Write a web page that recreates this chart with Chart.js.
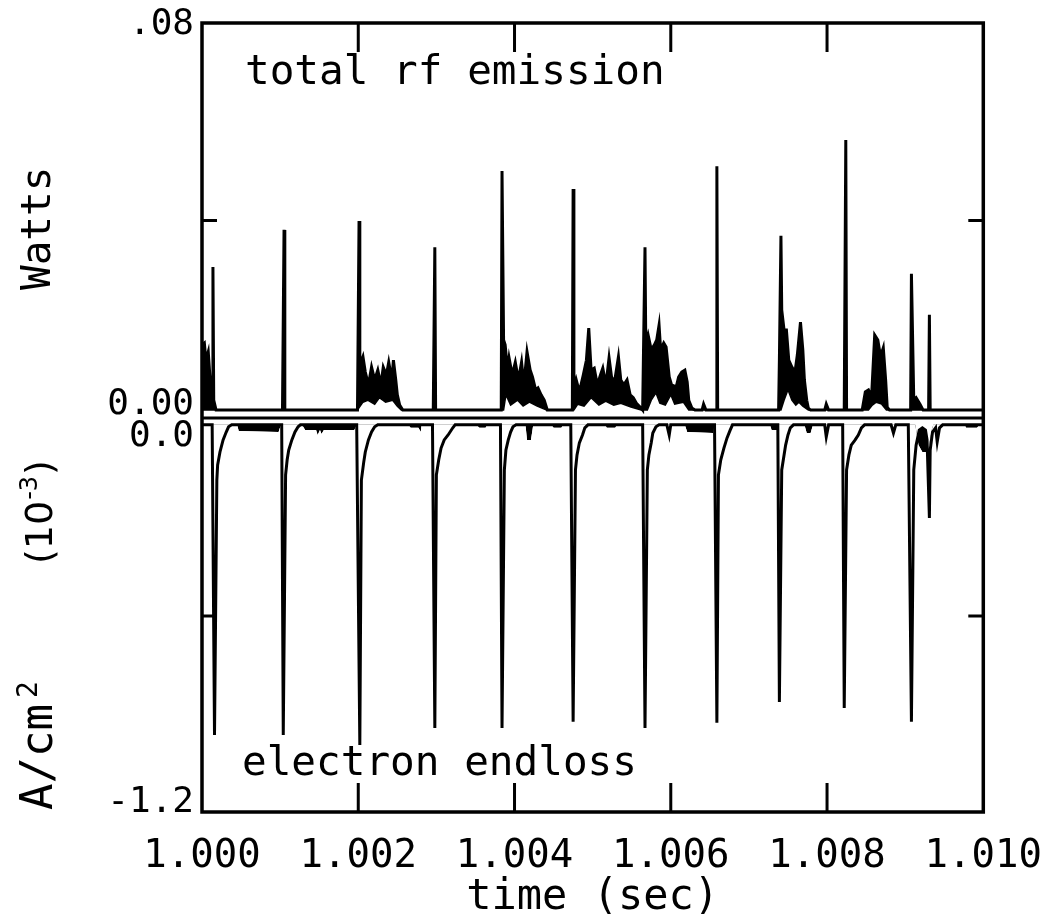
<!DOCTYPE html>
<html>
<head>
<meta charset="utf-8">
<script src="https://cdn.jsdelivr.net/npm/chart.js@4"></script>
<style>
  html, body { margin: 0; padding: 0; background: #fff; }
  #box { width: 1055px; height: 915px; }
</style>
</head>
<body>
<div id="box"><canvas id="rf"></canvas></div>
<script>
// time axis (sec)
const timeTicks = [1.000, 1.002, 1.004, 1.006, 1.008, 1.010];

// left axis labels, two panels sharing one frame
const wattTicks = [0.08, 0.04, 0.00];
const wattLabels = ['.08', '', '0.00'];
const endlossTicks = [0.0, -0.6, -1.2];
const endlossLabels = ['0.0', '', '-1.2'];

// total rf emission, upper edge of trace [time, Watts]
const rfUpper = [
  [1.00000, 0.0148], [1.00003, 0.0152], [1.00005, 0.0117], [1.00008, 0.0134], [1.00010, 0.0087],
  [1.00013, 0.0041], [1.00014, 0.0306], [1.00015, 0.0036], [1.00018, 0.0016],
  [1.00103, 0.0016], [1.00105, 0.0381], [1.00106, 0.0016],
  [1.00199, 0.0016], [1.00201, 0.0399], [1.00202, 0.0107], [1.00206, 0.0124], [1.00209, 0.0093],
  [1.00213, 0.0067], [1.00217, 0.0103], [1.00221, 0.0077], [1.00225, 0.0097], [1.00229, 0.0067],
  [1.00232, 0.0103], [1.00236, 0.0087], [1.00239, 0.0113], [1.00243, 0.0077], [1.00245, 0.0117],
  [1.00248, 0.0077], [1.00250, 0.0047], [1.00253, 0.0026], [1.00257, 0.0016],
  [1.00296, 0.0016], [1.00298, 0.0346], [1.00299, 0.0016],
  [1.00383, 0.0016], [1.00384, 0.0500], [1.00386, 0.0158], [1.00388, 0.0148], [1.00391, 0.0097],
  [1.00393, 0.0122], [1.00397, 0.0087], [1.00401, 0.0113], [1.00405, 0.0077], [1.00409, 0.0113],
  [1.00412, 0.0067], [1.00416, 0.0134], [1.00420, 0.0097], [1.00423, 0.0083], [1.00427, 0.0057],
  [1.00430, 0.0061], [1.00434, 0.0047], [1.00438, 0.0036], [1.00442, 0.0016],
  [1.00474, 0.0016], [1.00475, 0.0464], [1.00476, 0.0057], [1.00479, 0.0077], [1.00483, 0.0053],
  [1.00488, 0.0087], [1.00492, 0.0117], [1.00495, 0.0182], [1.00498, 0.0097], [1.00502, 0.0101],
  [1.00506, 0.0067], [1.00510, 0.0087], [1.00513, 0.0101], [1.00517, 0.0067], [1.00521, 0.0122],
  [1.00525, 0.0073], [1.00529, 0.0083], [1.00533, 0.0124], [1.00536, 0.0077], [1.00540, 0.0067],
  [1.00544, 0.0077], [1.00548, 0.0047], [1.00552, 0.0041], [1.00556, 0.0030], [1.00561, 0.0022],
  [1.00564, 0.0016], [1.00567, 0.0346], [1.00568, 0.0148], [1.00571, 0.0168], [1.00575, 0.0138],
  [1.00579, 0.0148], [1.00582, 0.0158], [1.00585, 0.0188], [1.00587, 0.0138], [1.00591, 0.0152],
  [1.00594, 0.0144], [1.00598, 0.0083], [1.00601, 0.0067], [1.00607, 0.0063], [1.00610, 0.0083],
  [1.00614, 0.0093], [1.00618, 0.0097], [1.00621, 0.0073], [1.00623, 0.0036], [1.00627, 0.0020],
  [1.00631, 0.0016], [1.00640, 0.0016], [1.00642, 0.0028], [1.00645, 0.0016],
  [1.00658, 0.0016], [1.00659, 0.0510], [1.00660, 0.0016],
  [1.00738, 0.0016], [1.00739, 0.0117], [1.00741, 0.0369], [1.00742, 0.0219], [1.00745, 0.0178],
  [1.00748, 0.0178], [1.00751, 0.0117], [1.00755, 0.0103], [1.00759, 0.0093], [1.00762, 0.0128],
  [1.00766, 0.0194], [1.00769, 0.0138], [1.00771, 0.0077], [1.00774, 0.0036], [1.00776, 0.0020],
  [1.00779, 0.0016], [1.00797, 0.0016], [1.00799, 0.0028], [1.00802, 0.0016],
  [1.00822, 0.0016], [1.00824, 0.0563], [1.00825, 0.0016],
  [1.00845, 0.0016], [1.00849, 0.0053], [1.00853, 0.0057], [1.00857, 0.0043], [1.00861, 0.0168],
  [1.00865, 0.0158], [1.00867, 0.0138], [1.00870, 0.0132], [1.00872, 0.0142], [1.00875, 0.0077],
  [1.00877, 0.0022], [1.00880, 0.0016],
  [1.00907, 0.0016], [1.00908, 0.0292], [1.00911, 0.0036], [1.00914, 0.0041], [1.00919, 0.0028],
  [1.00923, 0.0016], [1.00930, 0.0016], [1.00931, 0.0209], [1.00932, 0.0016], [1.01000, 0.0016]
];

// total rf emission, lower edge of trace (rises under the noisy bursts)
const rfLower = [
  [1.00000, 0.0016], [1.00199, 0.0016], [1.00206, 0.0032], [1.00212, 0.0036], [1.00221, 0.0028],
  [1.00227, 0.0041], [1.00235, 0.0032], [1.00244, 0.0036], [1.00250, 0.0024], [1.00255, 0.0016],
  [1.00386, 0.0016], [1.00389, 0.0047], [1.00395, 0.0026], [1.00404, 0.0036], [1.00411, 0.0024],
  [1.00419, 0.0032], [1.00429, 0.0024], [1.00441, 0.0016],
  [1.00476, 0.0016], [1.00481, 0.0028], [1.00489, 0.0024], [1.00498, 0.0041], [1.00508, 0.0026],
  [1.00517, 0.0034], [1.00527, 0.0026], [1.00536, 0.0030], [1.00549, 0.0022], [1.00562, 0.0016],
  [1.00570, 0.0016], [1.00575, 0.0036], [1.00581, 0.0051], [1.00586, 0.0030], [1.00593, 0.0026],
  [1.00600, 0.0047], [1.00605, 0.0028], [1.00616, 0.0032], [1.00623, 0.0016],
  [1.00741, 0.0016], [1.00745, 0.0036], [1.00750, 0.0057], [1.00755, 0.0036], [1.00760, 0.0026],
  [1.00764, 0.0032], [1.00769, 0.0024], [1.00776, 0.0016],
  [1.00853, 0.0016], [1.00858, 0.0026], [1.00863, 0.0032], [1.00870, 0.0028], [1.00876, 0.0016],
  [1.01000, 0.0016]
];

// electron endloss, upper edge of trace [time, A/cm2 x 1e-3]
const elUpper = [
  [1.00000, -0.015], [1.00013, -0.015], [1.00016, -0.964], [1.00019, -0.184], [1.00020, -0.138],
  [1.00023, -0.098], [1.00027, -0.061], [1.00031, -0.037], [1.00034, -0.021], [1.00038, -0.015],
  [1.00102, -0.015], [1.00104, -0.964], [1.00107, -0.168], [1.00109, -0.122], [1.00111, -0.092],
  [1.00115, -0.061], [1.00119, -0.037], [1.00123, -0.021], [1.00126, -0.015],
  [1.00198, -0.015], [1.00202, -0.995], [1.00204, -0.184], [1.00207, -0.129], [1.00209, -0.098],
  [1.00213, -0.061], [1.00217, -0.037], [1.00221, -0.021], [1.00225, -0.015],
  [1.00295, -0.015], [1.00298, -0.943], [1.00300, -0.168], [1.00303, -0.122], [1.00306, -0.086],
  [1.00310, -0.061], [1.00315, -0.046], [1.00321, -0.024], [1.00324, -0.015],
  [1.00382, -0.015], [1.00384, -0.943], [1.00387, -0.153], [1.00389, -0.092], [1.00392, -0.061],
  [1.00395, -0.037], [1.00398, -0.021], [1.00402, -0.015],
  [1.00472, -0.015], [1.00475, -0.924], [1.00478, -0.153], [1.00480, -0.107], [1.00483, -0.070],
  [1.00487, -0.046], [1.00490, -0.024], [1.00494, -0.015],
  [1.00564, -0.015], [1.00567, -0.943], [1.00570, -0.153], [1.00572, -0.107], [1.00575, -0.070],
  [1.00577, -0.040], [1.00581, -0.021], [1.00585, -0.015],
  [1.00595, -0.015], [1.00598, -0.046], [1.00600, -0.015],
  [1.00656, -0.015], [1.00659, -0.927], [1.00661, -0.168], [1.00664, -0.122], [1.00668, -0.086],
  [1.00672, -0.055], [1.00676, -0.031], [1.00679, -0.015],
  [1.00737, -0.015], [1.00739, -0.863], [1.00742, -0.153], [1.00745, -0.107], [1.00747, -0.077],
  [1.00750, -0.046], [1.00753, -0.024], [1.00757, -0.015],
  [1.00797, -0.015], [1.00799, -0.052], [1.00802, -0.015],
  [1.00820, -0.015], [1.00822, -0.882], [1.00825, -0.153], [1.00828, -0.107], [1.00831, -0.077],
  [1.00836, -0.061], [1.00840, -0.046], [1.00844, -0.024], [1.00848, -0.015],
  [1.00882, -0.015], [1.00885, -0.040], [1.00888, -0.015],
  [1.00904, -0.015], [1.00908, -0.924], [1.00911, -0.153], [1.00914, -0.077], [1.00918, -0.031],
  [1.00922, -0.024], [1.00926, -0.031], [1.00928, -0.061], [1.00931, -0.300], [1.00932, -0.092],
  [1.00935, -0.037], [1.00939, -0.024], [1.00941, -0.067], [1.00944, -0.024], [1.00948, -0.015],
  [1.01000, -0.015]
];

// electron endloss, lower edge (short thick stretches under the baseline)
const elLower = [
  [1.00000, -0.015], [1.00045, -0.015], [1.00047, -0.034], [1.00098, -0.037], [1.00101, -0.015],
  [1.00128, -0.015], [1.00132, -0.031], [1.00146, -0.031], [1.00148, -0.046], [1.00151, -0.031],
  [1.00153, -0.043], [1.00156, -0.031], [1.00195, -0.031], [1.00198, -0.015],
  [1.00264, -0.015], [1.00267, -0.024], [1.00277, -0.024], [1.00280, -0.037], [1.00281, -0.015],
  [1.00351, -0.015], [1.00355, -0.024], [1.00363, -0.024], [1.00365, -0.015],
  [1.00414, -0.015], [1.00416, -0.061], [1.00421, -0.061], [1.00424, -0.015],
  [1.00447, -0.015], [1.00450, -0.024], [1.00460, -0.024], [1.00462, -0.015],
  [1.00516, -0.015], [1.00518, -0.024], [1.00529, -0.024], [1.00531, -0.015],
  [1.00618, -0.015], [1.00621, -0.037], [1.00654, -0.040], [1.00656, -0.015],
  [1.00727, -0.015], [1.00729, -0.031], [1.00737, -0.031], [1.00738, -0.015],
  [1.00771, -0.015], [1.00774, -0.040], [1.00779, -0.040], [1.00782, -0.015],
  [1.00913, -0.015], [1.00917, -0.077], [1.00922, -0.098], [1.00927, -0.098], [1.00930, -0.086],
  [1.00934, -0.031], [1.00936, -0.015],
  [1.00976, -0.015], [1.00978, -0.024], [1.00992, -0.024], [1.00995, -0.015], [1.01000, -0.015]
];

const INK = '#000';
const MONO = "'DejaVu Sans Mono', monospace";
const SANS = "'DejaVu Sans', sans-serif";

function pts(arr) {
  return arr.map(p => ({x: p[0], y: p[1]}));
}

function trace(data, axis, width, fillNext) {
  return {
    data: pts(data),
    yAxisID: axis,
    borderColor: INK,
    borderWidth: width,
    pointRadius: 0,
    tension: 0,
    fill: fillNext ? {target: '+1', above: INK, below: 'rgba(0,0,0,0)'} : false
  };
}

// writes pieces one after another along the current baseline
function writeRun(ctx, start, pieces) {
  let at = start;
  pieces.forEach(([s, f, dy, gap]) => {
    ctx.font = f;
    at += gap || 0;
    ctx.fillText(s, at, dy);
    at += ctx.measureText(s).width;
  });
}

// frame, inward ticks, zero line and all the lettering
const paperPlugin = {
  id: 'paper',
  afterDraw(chart) {
    const {ctx, chartArea: a, scales} = chart;
    const x = scales.x, yW = scales.yW, yA = scales.yA;
    ctx.save();
    ctx.strokeStyle = INK;
    ctx.lineWidth = 3.5;
    ctx.strokeRect(a.left, a.top, a.right - a.left, a.bottom - a.top);

    ctx.lineWidth = 3;
    const z = yW.getPixelForValue(0);
    ctx.beginPath();
    ctx.moveTo(a.left, z);
    ctx.lineTo(a.right, z);
    timeTicks.slice(1, -1).forEach(t => {
      const px = x.getPixelForValue(t);
      ctx.moveTo(px, a.top); ctx.lineTo(px, a.top + 29);
      ctx.moveTo(px, a.bottom); ctx.lineTo(px, a.bottom - 29);
    });
    [[yW, wattTicks[1]], [yA, endlossTicks[1]]].forEach(([s, v]) => {
      const py = s.getPixelForValue(v);
      ctx.moveTo(a.left, py); ctx.lineTo(a.left + 15, py);
      ctx.moveTo(a.right, py); ctx.lineTo(a.right - 15, py);
    });
    ctx.stroke();

    ctx.fillStyle = INK;
    ctx.textAlign = 'right';
    ctx.textBaseline = 'middle';
    ctx.font = '36px ' + MONO;
    const lx = a.left - 8;
    ctx.fillText(wattLabels[0], lx, yW.getPixelForValue(wattTicks[0]) + 2);
    ctx.fillText(wattLabels[2], lx, yW.getPixelForValue(wattTicks[2]) - 13);
    ctx.fillText(endlossLabels[0], lx, yA.getPixelForValue(endlossTicks[0]) + 17);
    ctx.fillText(endlossLabels[2], lx, yA.getPixelForValue(endlossTicks[2]) - 9);

    ctx.textAlign = 'left';
    ctx.textBaseline = 'alphabetic';
    ctx.font = '41px ' + MONO;
    ctx.fillText('total rf emission', a.left + 43, a.top + 61);
    ctx.fillText('electron endloss', a.left + 40, a.bottom - 37);

    // rotated axis titles
    ctx.translate(50, 290);
    ctx.rotate(-Math.PI / 2);
    ctx.fillText('Watts', 0, 0);
    ctx.rotate(Math.PI / 2);
    ctx.translate(-50, -290);

    ctx.translate(52, 810);
    ctx.rotate(-Math.PI / 2);
    writeRun(ctx, 0, [['A/cm', '44px ' + MONO, 0], ['2', '28px ' + MONO, -15, 6]]);
    writeRun(ctx, 246, [['(10', '38px ' + SANS, 0], ['-3', '24px ' + SANS, -15, 1], [')', '38px ' + SANS, 0, 1]]);
    ctx.restore();
  }
};

new Chart(document.getElementById('rf'), {
  type: 'line',
  data: {
    datasets: [
      trace(rfUpper, 'yW', 3, true),
      trace(rfLower, 'yW', 1.5, false),
      trace(elUpper, 'yA', 3, true),
      trace(elLower, 'yA', 0, false)
    ]
  },
  options: {
    responsive: true,
    maintainAspectRatio: false,
    animation: false,
    layout: {padding: {left: 202, right: 60, top: 23, bottom: 0}},
    plugins: {legend: {display: false}, tooltip: {enabled: false}},
    scales: {
      x: {
        type: 'linear',
        min: timeTicks[0],
        max: timeTicks[timeTicks.length - 1],
        afterBuildTicks: s => { s.ticks = timeTicks.map(v => ({value: v})); },
        afterFit: s => { s.height = 103; },
        grid: {display: false},
        border: {display: false},
        ticks: {
          autoSkip: false,
          maxRotation: 0,
          padding: 13,
          color: INK,
          font: {family: MONO, size: 39},
          callback: v => v.toFixed(3)
        },
        title: {
          display: true,
          text: 'time (sec)',
          color: INK,
          font: {family: MONO, size: 42, lineHeight: 1},
          padding: {top: 0, bottom: -4}
        }
      },
      yW: {type: 'linear', display: false, min: -0.0798, max: 0.08},
      yA: {type: 'linear', display: false, min: -1.2, max: 1.215}
    }
  },
  plugins: [paperPlugin]
});
</script>
</body>
</html>
